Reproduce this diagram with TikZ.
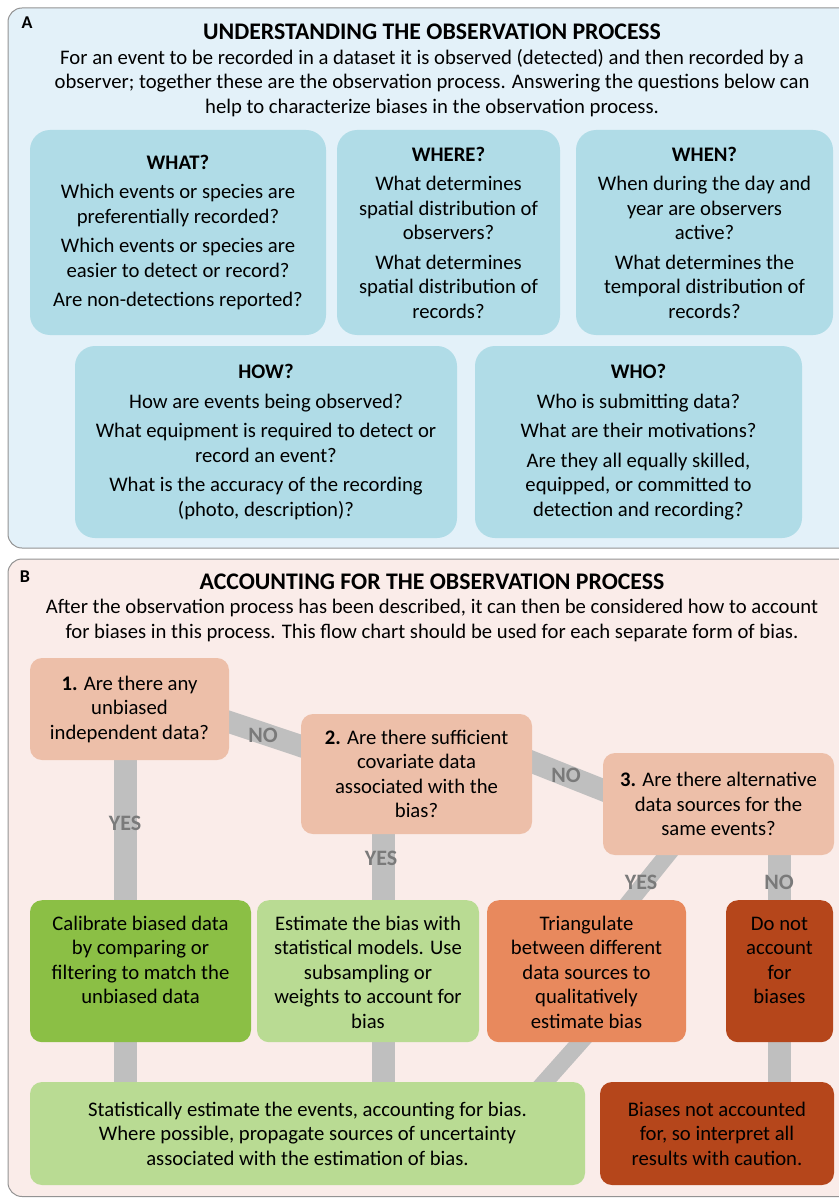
\documentclass[tikz,border=0pt]{standalone}
\usepackage{fontspec}
\setmainfont{Carlito}
\definecolor{panelA}{HTML}{E3F1F9}
\definecolor{boxA}{HTML}{B0DCE7}
\definecolor{panelB}{HTML}{FAECE9}
\definecolor{quest}{HTML}{EDBFA9}
\definecolor{calib}{HTML}{8BBF45}
\definecolor{estim}{HTML}{B9DB93}
\definecolor{triang}{HTML}{E8895D}
\definecolor{nobias}{HTML}{B5461B}
\definecolor{bandc}{HTML}{BFBFBF}
\definecolor{bandtxt}{HTML}{7A7A7A}
\newcommand{\bodysz}{\fontsize{20.7}{24.5}\selectfont}
\newcommand{\titlesz}{\fontsize{23.8}{27}\selectfont\bfseries}
\newcommand{\toplines}[1]{\begin{tabular}[t]{@{}c@{}}#1\end{tabular}}
\pgfdeclarelayer{bg}
\pgfdeclarelayer{links}
\pgfsetlayers{bg,links,main}
\tikzset{
  panel/.style={draw=gray!85, line width=1pt, rounded corners=14pt},
  tag/.style={font=\fontsize{18}{20}\selectfont\bfseries},
  title/.style={font=\titlesz},
  para/.style={font=\bodysz, align=center},
  qbox/.style={fill=boxA, rounded corners=20pt, align=center, font=\bodysz},
  fbox/.style={rounded corners=12pt, align=center, font=\bodysz},
  outbox/.style={rounded corners=12pt, font=\bodysz, anchor=north, text height=20pt, text depth=102pt, inner ysep=10pt},
  band/.style={draw=bandc, line width=23pt, shorten <=-8pt, shorten >=-8pt},
  yn/.style={text=bandtxt, font=\fontsize{22}{24}\selectfont\bfseries}
}
\begin{document}
\begin{tikzpicture}[x=1pt, y=-1pt]
\clip (0,0) rectangle (838,1198);
%panels
\begin{pgfonlayer}{bg}
\draw[panel, fill=panelA] (8,8) rectangle (870,548);
\draw[panel, fill=panelB] (8,559) rectangle (870,1196.5);
\end{pgfonlayer}

%panel A
\node[tag] (labA) at (27,23) {A};
\node[title] (titA) at (432,32) {UNDERSTANDING THE OBSERVATION PROCESS};
\node[para] (parA) at (432,83) {For an event to be recorded in a dataset it is observed (detected) and then recorded by a\\
  observer; together these are the observation process. Answering the questions below can\\
  help to characterize biases in the observation process.};

\node[qbox, minimum width=296pt, minimum height=205pt] (what) at (178,232.5)
  {\textbf{WHAT?}\\[5pt] Which events or species are\\preferentially recorded?\\[5pt]
   Which events or species are\\easier to detect or record?\\[5pt] Are non-detections reported?};
\node[qbox, minimum width=223pt, minimum height=205pt] (where) at (448.5,232.5)
  {\textbf{WHERE?}\\[5pt] What determines\\spatial distribution of\\observers?\\[5pt]
   What determines\\spatial distribution of\\records?};
\node[qbox, minimum width=257pt, minimum height=205pt] (when) at (704.5,232.5)
  {\textbf{WHEN?}\\[5pt] When during the day and\\year are observers\\active?\\[5pt]
   What determines the\\temporal distribution of\\records?};
\node[qbox, minimum width=382pt, minimum height=192pt] (how) at (266,442)
  {\textbf{HOW?}\\[5pt] How are events being observed?\\[5pt]
   What equipment is required to detect or\\record an event?\\[5pt]
   What is the accuracy of the recording\\(photo, description)?};
\node[qbox, minimum width=327pt, minimum height=192pt] (who) at (638.5,442)
  {\textbf{WHO?}\\[5pt] Who is submitting data?\\[5pt] What are their motivations?\\[5pt]
   Are they all equally skilled,\\equipped, or committed to\\detection and recording?};

%panel B
\node[tag] (labB) at (25,576.5) {B};
\node[title] (titB) at (432,582) {ACCOUNTING FOR THE OBSERVATION PROCESS};
\node[para] (parB) at (432,620.5) {After the observation process has been described, it can then be considered how to account\\
  for biases in this process. This flow chart should be used for each separate form of bias.};

%questions
\node[fbox, fill=quest, minimum width=199pt, minimum height=102pt] (q1) at (129.5,709)
  {\textbf{1.} Are there any\\unbiased\\independent data?};
\node[fbox, fill=quest, minimum width=231pt, minimum height=120pt] (q2) at (416.5,774)
  {\textbf{2.} Are there sufficient\\covariate data\\associated with the\\bias?};
\node[fbox, fill=quest, minimum width=231pt, minimum height=102pt] (q3) at (718.5,804)
  {\textbf{3.} Are there alternative\\data sources for the\\same events?};

%outcomes
\node[outbox, fill=calib, minimum width=221pt] (cal) at (140.5,900)
  {\toplines{Calibrate biased data\\by comparing or\\filtering to match the\\unbiased data}};
\node[outbox, fill=estim, minimum width=222pt] (est) at (368,900)
  {\toplines{Estimate the bias with\\statistical models. Use\\subsampling or\\weights to account for\\bias}};
\node[outbox, fill=triang, minimum width=199pt] (tri) at (586.5,900)
  {\toplines{Triangulate\\between different\\data sources to\\qualitatively\\estimate bias}};
\node[outbox, fill=nobias, minimum width=107pt] (dont) at (779.5,900)
  {\toplines{Do not\\account\\for\\biases}};

%results
\node[fbox, fill=estim, minimum width=555pt, minimum height=103pt] (stat) at (307.5,1133.5)
  {Statistically estimate the events, accounting for bias.\\
   Where possible, propagate sources of uncertainty\\associated with the estimation of bias.};
\node[fbox, fill=nobias, minimum width=234pt, minimum height=103pt] (nores) at (717,1133.5)
  {Biases not accounted\\for, so interpret all\\results with caution.};

%bands
\begin{pgfonlayer}{links}
\draw[band] ([xshift=-4.5pt]q1.south) -- ([xshift=-4.5pt]q1.south |- stat.north);
\draw[band] ([xshift=-33.5pt]q2.south) -- ([xshift=-33.5pt]q2.south |- stat.north);
\draw[band] (q3.south -| dont.north) -- (nores.north -| dont.north);
\draw[band, line width=22pt] ([yshift=-13pt]q1.east) -- ([yshift=28pt]q2.west);
\draw[band, line width=22pt] ([yshift=12pt]q2.east) -- ([yshift=14pt]q3.west);
\draw[band, line width=17pt] ([xshift=-51.5pt]q3.south) -- ([xshift=44.5pt]tri.north);
\draw[band, line width=17pt] ([xshift=-6.5pt]tri.south) -- ([xshift=237.5pt]stat.north);
\end{pgfonlayer}

%labels
\node[yn] (no1) at (263,735) {NO};
\node[yn] (no2) at (566,775) {NO};
\node[yn] (yes1) at (125,823) {YES};
\node[yn] (yes2) at (381,858) {YES};
\node[yn] (yes3) at (641,882) {YES};
\node[yn] (no3) at (779,882) {NO};
\end{tikzpicture}
\end{document}
